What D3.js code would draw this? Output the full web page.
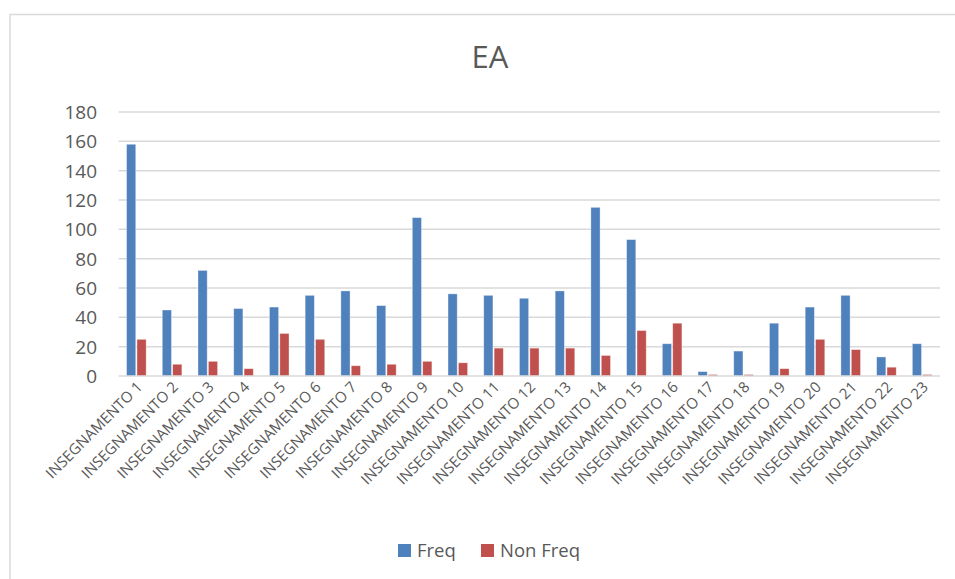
<!DOCTYPE html>
<html>
<head>
<meta charset="utf-8">
<script src="https://cdn.jsdelivr.net/npm/d3@7"></script>
<style>
  html, body { margin: 0; padding: 0; background: #fff; }
  svg { display: block; font-family: "Open Sans", "Noto Sans", sans-serif; }
</style>
</head>
<body>
<svg id="chart" width="955" height="579"></svg>
<script>
const categories = ["INSEGNAMENTO 1","INSEGNAMENTO 2","INSEGNAMENTO 3","INSEGNAMENTO 4","INSEGNAMENTO 5","INSEGNAMENTO 6","INSEGNAMENTO 7","INSEGNAMENTO 8","INSEGNAMENTO 9","INSEGNAMENTO 10","INSEGNAMENTO 11","INSEGNAMENTO 12","INSEGNAMENTO 13","INSEGNAMENTO 14","INSEGNAMENTO 15","INSEGNAMENTO 16","INSEGNAMENTO 17","INSEGNAMENTO 18","INSEGNAMENTO 19","INSEGNAMENTO 20","INSEGNAMENTO 21","INSEGNAMENTO 22","INSEGNAMENTO 23"];
const freq    = [158, 45, 72, 46, 47, 55, 58, 48, 108, 56, 55, 53, 58, 115, 93, 22, 3, 17, 36, 47, 55, 13, 22];
const nonFreq = [25, 8, 10, 5, 29, 25, 7, 8, 10, 9, 19, 19, 19, 14, 31, 36, 1, 1, 5, 25, 18, 6, 1];
const seriesNames = ["Freq", "Non Freq"];
const yTicks = [0, 20, 40, 60, 80, 100, 120, 140, 160, 180];
const title = "EA";

(function () {
const colors = ["#4F81BD", "#C0504D"];
const textColor = "#595959";
const svg = d3.select("#chart");

// chart border
svg.append("path")
  .attr("d", "M10,579 L10,14.5 L955,14.5")
  .attr("fill", "none").attr("stroke", "#D9D9D9").attr("stroke-width", 1.5);

const mLeft = 118.5, mRight = 940, mTop = 112, mBottom = 376;

const x = d3.scaleBand().domain(categories).range([mLeft, mRight]).paddingInner(0).paddingOuter(0);
const y = d3.scaleLinear().domain([0, 180]).range([mBottom, mTop]);

// gridlines
svg.append("g").selectAll("line").data(yTicks.filter(d => d > 0)).join("line")
  .attr("x1", mLeft).attr("x2", mRight)
  .attr("y1", d => y(d)).attr("y2", d => y(d))
  .attr("stroke", "#D9D9D9").attr("stroke-width", 1.5);

// y axis labels
const yAxis = d3.axisLeft(y).tickValues(yTicks).tickSize(0).tickPadding(0);
const yg = svg.append("g").attr("transform", `translate(97,0)`).call(yAxis);
yg.select(".domain").remove();
yg.selectAll("text").attr("fill", textColor).attr("font-size", 19).attr("font-family", "'Open Sans', sans-serif").attr("dy", "0.35em");

// bars
const barW = 9.2;
const data = categories.map((c, i) => ({c, v: [freq[i], nonFreq[i]]}));
const groups = svg.append("g").selectAll("g").data(data).join("g")
  .attr("transform", d => `translate(${x(d.c) + x.bandwidth() / 2},0)`);
groups.selectAll("rect").data(d => d.v.map((v, k) => ({v, k}))).join("rect")
  .attr("x", d => d.k === 0 ? -barW - 0.6 : 0.6)
  .attr("width", barW)
  .attr("y", d => y(d.v))
  .attr("height", d => y(0) - y(d.v))
  .attr("fill", d => colors[d.k])
  .attr("stroke", "#ffffff").attr("stroke-opacity", 0.45).attr("stroke-width", 0.8);

// x axis line
svg.append("line").attr("x1", mLeft).attr("x2", mRight).attr("y1", mBottom).attr("y2", mBottom)
  .attr("stroke", "#D9D9D9").attr("stroke-width", 1.5);

// x labels
const xAxis = d3.axisBottom(x).tickSize(0).tickPadding(0);
const xg = svg.append("g").attr("transform", `translate(0,${mBottom})`).call(xAxis);
xg.select(".domain").remove();
xg.selectAll("text")
  .attr("fill", textColor).attr("font-size", 15).attr("font-family", "'Open Sans', sans-serif")
  .attr("text-anchor", "end")
  .attr("dy", 0).attr("y", 0)
  .attr("transform", "translate(7,12) rotate(-45)");

// title
svg.append("text").attr("x", 490).attr("y", 68).attr("text-anchor", "middle")
  .attr("fill", textColor).attr("font-size", 31).attr("font-family", "'Open Sans', sans-serif").text(title);

// legend
const legend = svg.append("g");
const lx = [398, 481];
seriesNames.forEach((s, i) => {
  legend.append("rect").attr("x", lx[i]).attr("y", 544).attr("width", 13).attr("height", 13).attr("fill", colors[i]);
  legend.append("text").attr("x", lx[i] + 19).attr("y", 557).attr("fill", textColor)
    .attr("font-size", 18.5).attr("font-family", "'Open Sans', sans-serif").text(s);
});
})();
</script>
</body>
</html>
